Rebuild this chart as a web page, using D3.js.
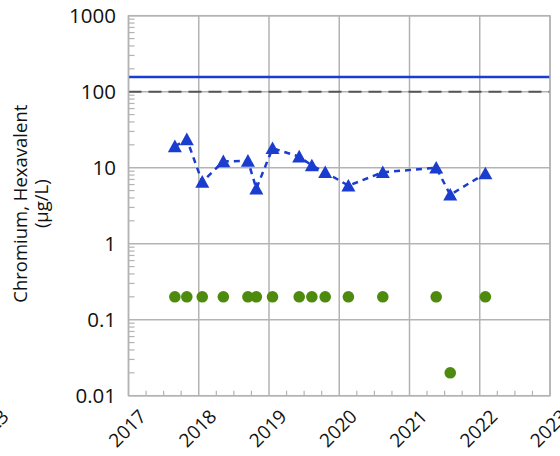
<!DOCTYPE html>
<html><head><meta charset="utf-8">
<script src="https://cdn.jsdelivr.net/npm/d3@7"></script>
<style>html,body{margin:0;padding:0;background:#fff;overflow:hidden}svg{display:block}</style>
</head><body>
<svg id="chart" width="560" height="456"></svg>
<script>
const yearTicks = [2017, 2018, 2019, 2020, 2021, 2022, 2023];
const yTicks = [0.01, 0.1, 1, 10, 100, 1000];
const yTickLabels = ["0.01", "0.1", "1", "10", "100", "1000"];
const sampleDates = [2017.66, 2017.83, 2018.05, 2018.35, 2018.70, 2018.82, 2019.05, 2019.43, 2019.61, 2019.80, 2020.13, 2020.62, 2021.38, 2021.58, 2022.08];
const hexChromium = [19.1, 23.6, 6.5, 12.1, 12.3, 5.3, 18.0, 14.0, 10.7, 8.7, 5.8, 8.7, 10.0, 4.4, 8.4];
const nonDetect = [0.2, 0.2, 0.2, 0.2, 0.2, 0.2, 0.2, 0.2, 0.2, 0.2, 0.2, 0.2, 0.2, 0.02, 0.2];
const screeningLevel = 156;
const referenceLevel = 100;
const yTitle = ["Chromium, Hexavalent", "(µg/L)"];

const svg = d3.select("#chart");
const L = 128.5, R = 550, T = 15.7, B = 395.7;
const x = d3.scaleLinear().domain([2017, 2023]).range([L, R]);
const y = d3.scaleLog().domain([0.01, 1000]).range([B, T]);
const grid = "#b3b3b3";
const blue = "#1a3ccf";
const green = "#4e8a0e";
const font = "'Open Sans', sans-serif";

// minor ticks
const minorY = [];
for (let e = -2; e < 3; e++) for (let m = 2; m <= 9; m++) minorY.push(m * Math.pow(10, e));
svg.append("g").selectAll("line").data(minorY).join("line")
  .attr("x1", L).attr("x2", L + 6).attr("y1", d => y(d)).attr("y2", d => y(d))
  .attr("stroke", grid).attr("stroke-width", 1.2);
const minorX = [];
for (let yr = 2017; yr < 2023; yr++) for (let q = 1; q < 4; q++) minorX.push(yr + q / 4);
svg.append("g").selectAll("line").data(minorX).join("line")
  .attr("x1", d => x(d)).attr("x2", d => x(d)).attr("y1", B).attr("y2", B - 5)
  .attr("stroke", grid).attr("stroke-width", 1.2);

// grid
svg.append("g").selectAll("line").data(yTicks).join("line")
  .attr("x1", L).attr("x2", R).attr("y1", d => y(d)).attr("y2", d => y(d))
  .attr("stroke", grid).attr("stroke-width", 1.5);
svg.append("g").selectAll("line").data(yearTicks).join("line")
  .attr("x1", d => x(d)).attr("x2", d => x(d)).attr("y1", T).attr("y2", B)
  .attr("stroke", grid).attr("stroke-width", 1.5);

// y labels
svg.append("g").selectAll("text").data(yTicks).join("text")
  .attr("x", 116).attr("y", d => y(d)).attr("dy", "0.36em")
  .attr("text-anchor", "end").attr("font-family", font).attr("font-size", 20.5)
  .attr("fill", "#111").text((d, i) => yTickLabels[i]);

// x labels
const xl = svg.append("g");
xl.selectAll("text").data(yearTicks).join("text")
  .attr("transform", d => `translate(${x(d) + 19},${B + 22}) rotate(-45)`)
  .attr("text-anchor", "end").attr("font-family", font).attr("font-size", 19)
  .attr("fill", "#111").text(d => d);
// label of the neighbouring panel's last tick, cut by the left edge
xl.append("text")
  .attr("transform", `translate(${x(2023) - 559 + 19},${B + 22}) rotate(-45)`)
  .attr("text-anchor", "end").attr("font-family", font).attr("font-size", 19)
  .attr("fill", "#111").text(yearTicks[6]);

// y title
const yt = svg.append("text").attr("transform", `translate(27,${(T + B) / 2 - 2}) rotate(-90)`)
  .attr("text-anchor", "middle").attr("font-family", font).attr("font-size", 18.5).attr("fill", "#111");
yt.append("tspan").attr("x", 0).attr("dy", 0).text(yTitle[0]);
yt.append("tspan").attr("x", 0).attr("dy", 21).text(yTitle[1]);

// reference lines
svg.append("line").attr("x1", L).attr("x2", R).attr("y1", y(referenceLevel)).attr("y2", y(referenceLevel))
  .attr("stroke", "#555").attr("stroke-width", 2).attr("stroke-dasharray", "13,7");
svg.append("line").attr("x1", L).attr("x2", R).attr("y1", y(screeningLevel)).attr("y2", y(screeningLevel))
  .attr("stroke", blue).attr("stroke-width", 2.5);

// series line
const line = d3.line().x(d => x(d[0])).y(d => y(d[1]));
svg.append("path").datum(sampleDates.map((d, i) => [d, hexChromium[i]]))
  .attr("d", line).attr("fill", "none").attr("stroke", blue).attr("stroke-width", 2.5)
  .attr("stroke-dasharray", "6,5");

svg.append("g").selectAll("path").data(sampleDates).join("path")
  .attr("transform", (d, i) => `translate(${x(d)},${y(hexChromium[i])})`)
  .attr("d", "M0,-6.8L7,5.8L-7,5.8Z").attr("fill", blue);

svg.append("g").selectAll("circle").data(sampleDates).join("circle")
  .attr("cx", d => x(d)).attr("cy", (d, i) => y(nonDetect[i])).attr("r", 5.8).attr("fill", green);

// border
svg.append("rect").attr("x", L).attr("y", T).attr("width", R - L).attr("height", B - T)
  .attr("fill", "none").attr("stroke", grid).attr("stroke-width", 1.5);
</script>
</body></html>
